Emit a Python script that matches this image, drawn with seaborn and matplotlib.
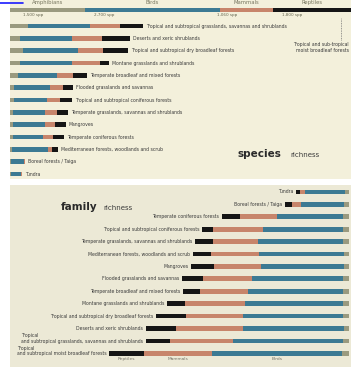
import matplotlib
matplotlib.use("Agg")
import matplotlib.pyplot as plt
import seaborn as sns
import pandas as pd
from matplotlib.lines import Line2D

sns.set_style("white")
plt.rcParams['font.family'] = ['DejaVu Sans']

classes = ["Amphibians", "Birds", "Mammals", "Reptiles"]
class_colors = ["#9a9a7f", "#3c7a93", "#c7856b", "#151515"]

# ---------------- species richness (top panel), top to bottom ----------------
sp_biomes = [
    "Tropical and subtropical moist broadleaf forests",
    "Tropical and subtropical grasslands, savannas and shrublands",
    "Deserts and xeric shrublands",
    "Tropical and subtropical dry broadleaf forests",
    "Montane grasslands and shrublands",
    "Temperate broadleaf and mixed forests",
    "Flooded grasslands and savannas",
    "Tropical and subtropical coniferous forests",
    "Temperate grasslands, savannas and shrublands",
    "Mangroves",
    "Temperate coniferous forests",
    "Mediterranean forests, woodlands and scrub",
    "Boreal forests / Taiga",
    "Tundra",
]
sp_amphibians = [1500, 360, 200, 260, 200, 160, 80, 80, 60, 60, 60, 40, 20, 20]
sp_birds      = [2700, 1240, 1040, 1100, 1040, 780, 720, 660, 640, 640, 600, 720, 260, 200]
sp_mammals    = [1060, 600, 600, 500, 560, 320, 260, 260, 240, 200, 200, 80, 20, 20]
sp_reptiles   = [1800, 460, 560, 500, 180, 280, 200, 240, 220, 220, 220, 120, 0, 0]

# ---------------- family richness (bottom panel), top to bottom ----------------
fam_biomes = [
    "Tundra",
    "Boreal forests / Taiga",
    "Temperate coniferous forests",
    "Tropical and subtropical coniferous forests",
    "Temperate grasslands, savannas and shrublands",
    "Mediterranean forests, woodlands and scrub",
    "Mangroves",
    "Flooded grasslands and savannas",
    "Temperate broadleaf and mixed forests",
    "Montane grasslands and shrublands",
    "Tropical and subtropical dry broadleaf forests",
    "Deserts and xeric shrublands",
    "Tropical\nand subtropical grasslands, savannas and shrublands",
    "Tropical\nand subtropical moist broadleaf forests",
]
fam_amphibians = [4, 5, 6, 6, 6, 5, 5, 6, 6, 6, 6, 5, 6, 7]
fam_birds      = [40, 43, 66, 80, 85, 85, 83, 91, 95, 98, 100, 101, 110, 130]
fam_mammals    = [5, 9, 37, 50, 45, 48, 47, 49, 48, 60, 57, 67, 63, 68]
fam_reptiles   = [4, 7, 18, 11, 18, 18, 23, 21, 17, 18, 30, 30, 24, 35]

W, H = 351, 369
fig = plt.figure(figsize=(W / 100, H / 100), dpi=100, facecolor="white")

def px_axes(x0, y0, x1, y1):
    return fig.add_axes([x0 / W, 1 - y1 / H, (x1 - x0) / W, (y1 - y0) / H])

ax1 = px_axes(10, 0, 351, 179)
ax2 = px_axes(10, 185, 351, 367)
ax1.set_facecolor("#f3f0db")
ax2.set_facecolor("#ece9d6")

label_kw = dict(fontsize=3.3, color="#3a3a3a")

# ---- top panel ----
positions = [0] + [1.3 + i for i in range(len(sp_biomes) - 1)]
df_sp = pd.DataFrame({
    "biome": sp_biomes, "pos": positions,
    "Amphibians": sp_amphibians, "Birds": sp_birds,
    "Mammals": sp_mammals, "Reptiles": sp_reptiles,
})
cum = df_sp[classes].cumsum(axis=1)
for cls, col in reversed(list(zip(classes, class_colors))):
    sns.barplot(x=cum[cls], y=df_sp["pos"], orient="h", native_scale=True,
                width=0.38, color=col, saturation=1, errorbar=None,
                linewidth=0, ax=ax1)
sp_max = 6820
ax1.set_xlim(0, sp_max)
ax1.set_ylim(13.7, -0.81)

for i in range(1, len(sp_biomes)):
    ax1.annotate(sp_biomes[i], xy=(cum["Reptiles"][i], df_sp["pos"][i]),
                 xytext=(2, 0), textcoords="offset points",
                 ha="left", va="center", **label_kw)

# header labels on top bar
starts = [0] + list(cum.iloc[0][classes[:-1]])
ends = list(cum.iloc[0][classes])
for cls, s, e in zip(classes, starts, ends):
    e = min(e, sp_max)
    ax1.text((s + e) / 2, -0.57, cls, ha="center", va="center",
             fontsize=3.8, color="#77765f")
sub_x = [0.067, 0.276, 0.636, 0.827]
top_vals = [sp_amphibians[0], sp_birds[0], sp_mammals[0], sp_reptiles[0]]
for fx, v in zip(sub_x, top_vals):
    ax1.text(fx, 0.917, f"{v:,} spp", transform=ax1.transAxes,
             ha="center", va="center", fontsize=3.0, color="#66664f")

ax1.add_line(Line2D([0.971, 0.971], [0.777, 0.9], transform=ax1.transAxes,
                    color="#777777", lw=0.6, ls=(0, (1, 1))))
ax1.text(0.994, 0.735, "Tropical and sub-tropical\nmoist broadleaf forests",
         transform=ax1.transAxes, ha="right", va="center", ma="right",
         fontsize=3.3, color="#3a3a3a", linespacing=1.3)

ax1.text(0.668, 0.123, "species", transform=ax1.transAxes, ha="left",
         va="baseline", fontsize=7.5, fontweight="bold", color="#2a2a2a")
ax1.text(0.822, 0.123, "richness", transform=ax1.transAxes, ha="left",
         va="baseline", fontsize=5.0, color="#3a3a3a")

# ---- bottom panel ----
df_fam = pd.DataFrame({
    "biome": fam_biomes,
    "Amphibians": fam_amphibians, "Birds": fam_birds,
    "Mammals": fam_mammals, "Reptiles": fam_reptiles,
})
fcum = df_fam[classes].cumsum(axis=1)
for cls, col in reversed(list(zip(classes, class_colors))):
    sns.barplot(x=fcum[cls], y=df_fam["biome"], orient="h", order=fam_biomes,
                width=0.38, color=col, saturation=1, errorbar=None,
                linewidth=0, ax=ax2)
ax2.set_xlim(339, -2)
ax2.set_ylim(14.1, -0.56)

for i, name in enumerate(fam_biomes):
    if "\n" in name:
        ax2.annotate(name, xy=(fcum["Reptiles"][i], i), xytext=(-2, -1.9),
                     textcoords="offset points", ha="right", va="bottom",
                     ma="left", linespacing=1.1, **label_kw)
    else:
        ax2.annotate(name, xy=(fcum["Reptiles"][i], i), xytext=(-2, 0),
                     textcoords="offset points", ha="right", va="center",
                     **label_kw)

last = len(fam_biomes) - 1
fstarts = [0] + list(fcum.iloc[last][classes[:-1]])
fends = list(fcum.iloc[last][classes])
for cls, s, e in zip(classes[1:], fstarts[1:], fends[1:]):
    ax2.text((s + e) / 2, 13.47, cls, ha="center", va="center",
             fontsize=3.2, color="#77766a")

ax2.text(0.15, 0.86, "family", transform=ax2.transAxes, ha="left",
         va="baseline", fontsize=7.5, fontweight="bold", color="#2a2a2a")
ax2.text(0.275, 0.86, "richness", transform=ax2.transAxes, ha="left",
         va="baseline", fontsize=5.0, color="#3a3a3a")

for ax in (ax1, ax2):
    for sp in ax.spines.values():
        sp.set_visible(False)
    ax.set_xticks([])
    ax.set_yticks([])
    ax.set_xlabel("")
    ax.set_ylabel("")

fig.add_artist(Line2D([0, 23 / W], [1 - 3 / H, 1 - 3 / H],
                      transform=fig.transFigure, color="#1a1aff", lw=1.2))

fig.savefig("out.png", dpi=100, facecolor="white")
